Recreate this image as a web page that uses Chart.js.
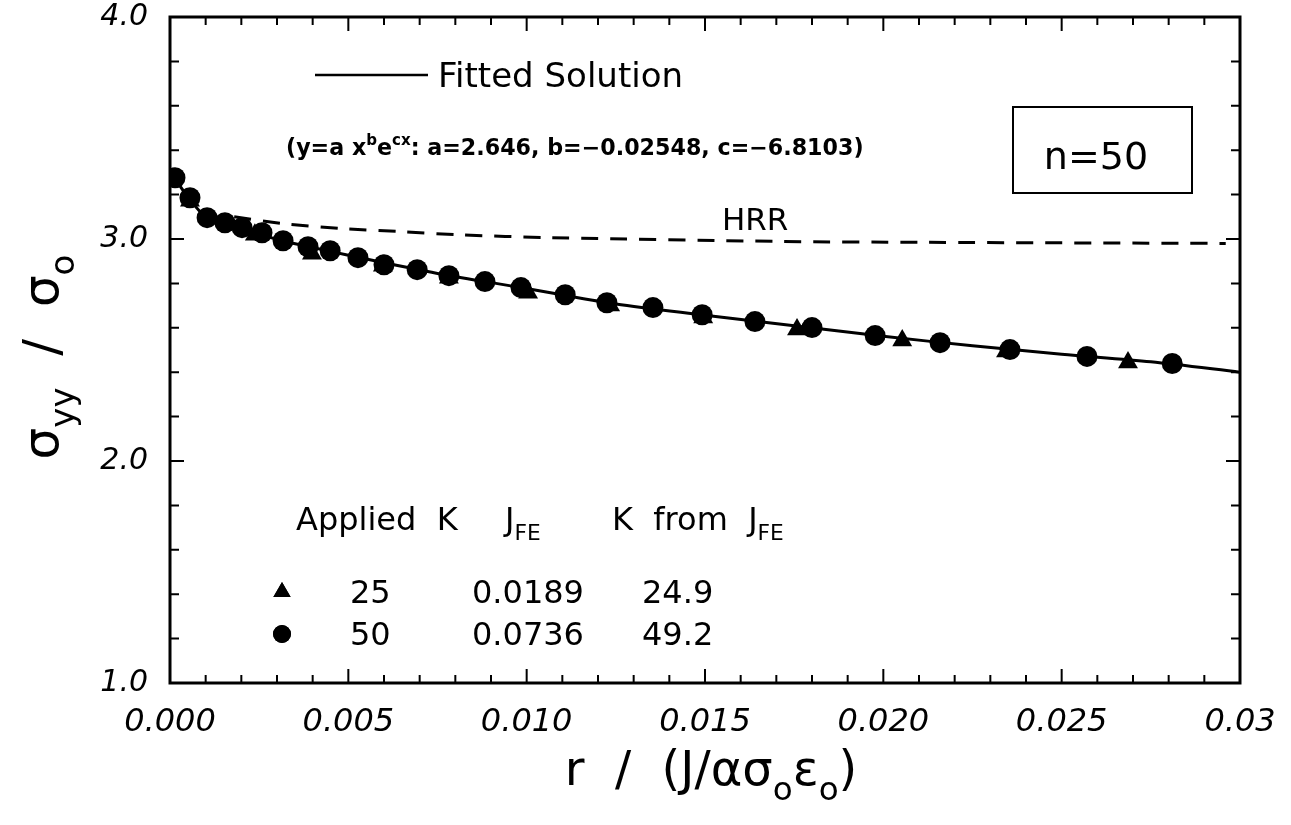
<!DOCTYPE html>
<html>
<head>
<meta charset="utf-8">
<script src="https://cdn.jsdelivr.net/npm/chart.js@4.4.0/dist/chart.umd.min.js"></script>
<style>
  html, body { margin: 0; padding: 0; background: #fff; }
  #wrap { width: 1291px; height: 825px; }
</style>
</head>
<body>
<div id="wrap"><canvas id="myChart" width="1291" height="825"></canvas></div>
<script>
// fitted curve
const fitR = [0.0001, 0.0005, 0.001, 0.0015, 0.002, 0.003, 0.004, 0.005, 0.0075, 0.01, 0.0125, 0.015, 0.0175, 0.02, 0.0225, 0.025, 0.0275, 0.03];
const fitS = [3.28, 3.19, 3.10, 3.073, 3.051, 2.998, 2.962, 2.927, 2.845, 2.777, 2.707, 2.657, 2.609, 2.562, 2.519, 2.481, 2.447, 2.40];

// HRR field (dashed)
const hrrR = [0.0018, 0.0032, 0.0049, 0.0065, 0.0081, 0.0107, 0.0171, 0.0211, 0.0296];
const hrrS = [3.10, 3.069, 3.046, 3.033, 3.019, 3.006, 2.989, 2.985, 2.98];

// K = 25 (triangles)
const k25R = [0.00056, 0.00238, 0.00398, 0.00597, 0.00782, 0.01004, 0.01234, 0.01495, 0.01758, 0.02053, 0.02344, 0.02686];
const k25S = [3.172, 3.019, 2.934, 2.880, 2.826, 2.758, 2.700, 2.646, 2.592, 2.543, 2.493, 2.444];

// K = 50 (circles)
const k50R = [0.00014, 0.00056, 0.00104, 0.00154, 0.00202, 0.00258, 0.00317, 0.00387, 0.00449, 0.00527, 0.0060, 0.00693, 0.00782, 0.00883, 0.00984,
              0.01108, 0.01225, 0.01354, 0.01492, 0.0164, 0.018, 0.01977, 0.02159, 0.02355, 0.02571, 0.0281];
const k50S = [3.276, 3.186, 3.096, 3.073, 3.051, 3.028, 2.992, 2.965, 2.947, 2.916, 2.884, 2.862, 2.835, 2.808, 2.781,
              2.749, 2.713, 2.691, 2.659, 2.628, 2.601, 2.565, 2.533, 2.502, 2.471, 2.439];

const xTickValues = [0, 0.005, 0.01, 0.015, 0.02, 0.025, 0.03];
const xTickLabels = ["0.000", "0.005", "0.010", "0.015", "0.020", "0.025", "0.03"];
const yTickValues = [1, 2, 3, 4];
const yTickLabels = ["1.0", "2.0", "3.0", "4.0"];

// legend table
const appliedK = ["25", "50"];
const jFE = ["0.0189", "0.0736"];
const kFromJ = ["24.9", "49.2"];

const FONT = "'DejaVu Sans', sans-serif";

function pts(xs, ys) { return xs.map((v, i) => ({ x: v, y: ys[i] })); }

// text with sub/superscripts: runs = [[text, 'n'|'sub'|'sup'], ...]
function runsWidth(ctx, runs, size, weight) {
  let w = 0;
  runs.forEach(r => {
    const s = r[1] === 'n' ? size : size * 0.68;
    ctx.font = weight + ' ' + s + 'px ' + FONT;
    w += ctx.measureText(r[0]).width;
  });
  return w;
}
function drawRuns(ctx, runs, x, y, size, weight, align) {
  weight = weight || 'normal';
  let cx = x;
  if (align === 'center') cx = x - runsWidth(ctx, runs, size, weight) / 2;
  ctx.textBaseline = 'alphabetic';
  ctx.textAlign = 'left';
  runs.forEach(r => {
    const s = r[1] === 'n' ? size : size * 0.68;
    const dy = r[1] === 'sub' ? size * 0.32 : (r[1] === 'sup' ? -size * 0.45 : 0);
    ctx.font = weight + ' ' + s + 'px ' + FONT;
    ctx.fillText(r[0], cx, y + dy);
    cx += ctx.measureText(r[0]).width;
  });
}

const frame = {
  id: 'frame',
  afterDatasetsDraw(chart) {
    const { ctx, chartArea: a, scales: { x, y } } = chart;
    ctx.save();
    ctx.strokeStyle = '#000';
    ctx.fillStyle = '#000';
    ctx.lineWidth = 2;
    ctx.beginPath();
    for (let i = 0; i <= 30; i++) {
      const px = x.getPixelForValue(i * 0.001);
      const len = i % 5 === 0 ? 14 : 8;
      ctx.moveTo(px, a.bottom); ctx.lineTo(px, a.bottom - len);
      ctx.moveTo(px, a.top); ctx.lineTo(px, a.top + len);
    }
    for (let i = 0; i <= 15; i++) {
      const py = y.getPixelForValue(1 + i * 0.2);
      const len = i % 5 === 0 ? 14 : 9;
      ctx.moveTo(a.left, py); ctx.lineTo(a.left + len, py);
      ctx.moveTo(a.right, py); ctx.lineTo(a.right - len, py);
    }
    ctx.stroke();
    ctx.lineWidth = 3;
    ctx.strokeRect(a.left, a.top, a.width, a.height);

    // fitted solution key
    ctx.lineWidth = 2.5;
    ctx.beginPath(); ctx.moveTo(315, 75); ctx.lineTo(428, 75); ctx.stroke();
    drawRuns(ctx, [["Fitted Solution", 'n']], 438, 87, 34);
    drawRuns(ctx, [["(y=a x", 'n'], ["b", 'sup'], ["e", 'n'], ["cx", 'sup'], [": a=2.646, b=\u22120.02548, c=\u22126.8103)", 'n']], 286, 155, 22.2, 'bold');

    // n=50 box
    ctx.lineWidth = 2;
    ctx.strokeRect(1013, 107, 179, 86);
    drawRuns(ctx, [["n=50", 'n']], 1096, 169, 38, 'normal', 'center');

    drawRuns(ctx, [["HRR", 'n']], 722, 230, 31);

    // legend table
    drawRuns(ctx, [["Applied  K", 'n']], 296, 530, 32);
    drawRuns(ctx, [["J", 'n'], ["FE", 'sub']], 505, 530, 32);
    drawRuns(ctx, [["K  from  J", 'n'], ["FE", 'sub']], 612, 530, 32);
    const rowY = [603, 645];
    for (let i = 0; i < 2; i++) {
      drawRuns(ctx, [[appliedK[i], 'n']], 350, rowY[i], 32);
      drawRuns(ctx, [[jFE[i], 'n']], 472, rowY[i], 32);
      drawRuns(ctx, [[kFromJ[i], 'n']], 642, rowY[i], 32);
    }
    Chart.helpers.drawPoint(ctx, { pointStyle: 'triangle', radius: 10, rotation: 0 }, 282, rowY[0] - 11);
    ctx.fill();
    Chart.helpers.drawPoint(ctx, { pointStyle: 'circle', radius: 9, rotation: 0 }, 282, rowY[1] - 11);
    ctx.fill();

    // axis titles
    drawRuns(ctx, [["r  /  (J/\u03b1\u03c3", 'n'], ["o", 'sub'], ["\u03b5", 'n'], ["o", 'sub'], [")", 'n']], 711, 785, 48, 'normal', 'center');
    ctx.save();
    ctx.translate(58, 357);
    ctx.rotate(-Math.PI / 2);
    drawRuns(ctx, [["\u03c3", 'n'], ["yy", 'sub'], ["  /  \u03c3", 'n'], ["o", 'sub']], 0, 0, 50, 'normal', 'center');
    ctx.restore();
    ctx.restore();
  }
};

const ctx = document.getElementById("myChart").getContext("2d");
new Chart(ctx, {
  type: "scatter",
  data: {
    datasets: [
      {
        label: "K=25",
        data: pts(k25R, k25S),
        pointStyle: "triangle",
        pointRadius: 11.5,
        backgroundColor: "#000",
        borderColor: "#000",
        borderWidth: 0,
      },
      {
        label: "K=50",
        data: pts(k50R, k50S),
        pointStyle: "circle",
        pointRadius: 10.5,
        backgroundColor: "#000",
        borderColor: "#000",
        borderWidth: 0,
      },
      {
        label: "Fitted Solution",
        data: pts(fitR, fitS),
        showLine: true,
        pointRadius: 0,
        borderColor: "#000",
        borderWidth: 3,
        tension: 0.3,
      },
      {
        label: "HRR",
        data: pts(hrrR, hrrS),
        showLine: true,
        pointRadius: 0,
        borderColor: "#000",
        borderWidth: 3,
        borderDash: [17, 12],
        tension: 0.3,
      },
    ],
  },
  options: {
    responsive: false,
    animation: false,
    devicePixelRatio: 1,
    layout: { padding: { top: 17, right: 51, left: 0, bottom: 0 } },
    plugins: { legend: { display: false }, tooltip: { enabled: false } },
    scales: {
      x: {
        type: "linear",
        min: 0,
        max: 0.03,
        grid: { display: false, drawTicks: false },
        border: { display: false },
        afterBuildTicks: (s) => { s.ticks = xTickValues.map((v) => ({ value: v })); },
        afterFit: (s) => { s.height = 142; s.paddingLeft = 0; s.paddingRight = 0; },
        ticks: {
          callback: (v, i) => xTickLabels[i],
          font: { family: "DejaVu Sans", size: 32, style: "italic" },
          color: "#000",
          padding: 20,
          maxRotation: 0,
          autoSkip: false,
        },
      },
      y: {
        type: "linear",
        min: 1,
        max: 4,
        grid: { display: false, drawTicks: false },
        border: { display: false },
        afterBuildTicks: (s) => { s.ticks = yTickValues.map((v) => ({ value: v })); },
        afterFit: (s) => { s.width = 170; s.paddingTop = 0; s.paddingBottom = 0; },
        ticks: {
          callback: (v, i) => yTickLabels[i],
          font: { family: "DejaVu Sans", size: 30, style: "italic" },
          color: "#000",
          padding: 22,
          autoSkip: false,
        },
      },
    },
  },
  plugins: [frame],
});
</script>
</body>
</html>
